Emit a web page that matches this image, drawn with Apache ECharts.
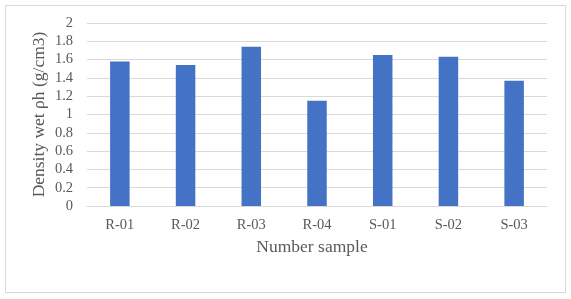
<!DOCTYPE html>
<html><head><meta charset="utf-8">
<script src="https://cdn.jsdelivr.net/npm/echarts@6/dist/echarts.min.js"></script>
<style>html,body{margin:0;padding:0;background:#fff}#c{width:571px;height:299px}
#frame{position:absolute;left:5px;top:5px;width:559px;height:286px;border:1px solid #d9d9d9;pointer-events:none}</style>
</head><body><div id="c"></div><div id="frame"></div>
<script>
const categories = ["R-01","R-02","R-03","R-04","S-01","S-02","S-03"];
const density = [1.58,1.54,1.74,1.15,1.65,1.63,1.37];
const yTicks = [0,0.2,0.4,0.6,0.8,1,1.2,1.4,1.6,1.8,2];
const chart = echarts.init(document.getElementById('c'));
const font = '"Liberation Serif", "Times New Roman", serif';
chart.setOption({
  animation:false,
  grid:{left:87,right:24,top:23,bottom:93},
  xAxis:{type:'category',data:categories,
    name:'Number sample',nameLocation:'middle',nameGap:32,
    nameTextStyle:{fontFamily:font,fontSize:17.5,color:'#595959',padding:[0,10,0,0]},
    axisLine:{lineStyle:{color:'#d9d9d9'}},axisTick:{show:false},
    axisLabel:{fontFamily:font,fontSize:14.5,color:'#595959',margin:12}},
  yAxis:{type:'value',min:0,max:2,interval:0.2,
    name:'Density wet ρh (g/cm3)',nameLocation:'middle',nameGap:39,nameMoveOverlap:false,
    nameTextStyle:{fontFamily:font,fontSize:17.5,color:'#595959'},
    axisLine:{show:false},axisTick:{show:false},
    splitLine:{lineStyle:{color:'#d9d9d9'}},
    axisLabel:{fontFamily:font,fontSize:14.5,color:'#595959',margin:14,
      formatter:v=>{const t=yTicks.find(x=>Math.abs(x-v)<1e-9);return String(t!==undefined?t:v);}}},
  series:[{type:'bar',data:density,barWidth:19.5,itemStyle:{color:'#4472c4'}}]
});
</script></body></html>
